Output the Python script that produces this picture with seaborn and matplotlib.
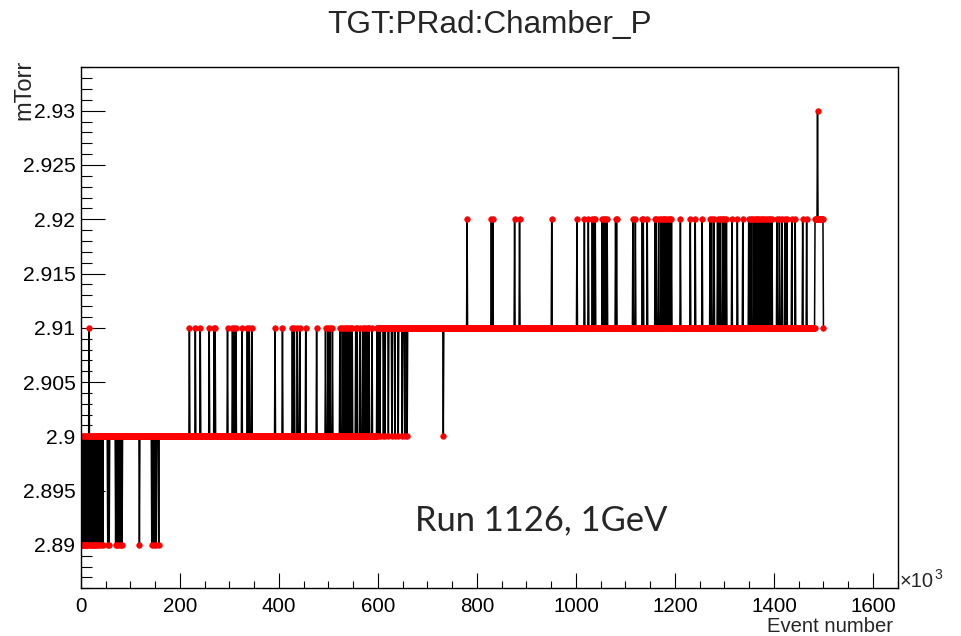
import numpy as np
import pandas as pd
import matplotlib
matplotlib.use("Agg")
import matplotlib.pyplot as plt
import seaborn as sns
from matplotlib.ticker import MultipleLocator, FixedLocator, FuncFormatter

# ---------------- data (event number in units of 10^3, pressure in mTorr) ----------------
# readings every 1000 events from 0 to 1500 x10^3
event_k = np.arange(0, 1501)

# baseline level segments: (start, end, level)
seg_start = [0, 598, 1483]
seg_end = [598, 1483, 1500]
seg_level = [2.90, 2.91, 2.92]

# excursions (event positions, x10^3)
dips_289 = [0, 2, 3, 5, 6, 8, 10, 11, 13, 15, 18, 20, 22, 24, 26, 28, 31, 33, 37,
            41, 44, 54, 57, 70, 73, 77, 80, 83, 118, 143, 147, 152, 157]
spikes_291_low = [16, 219, 231, 241, 259, 269, 271, 296, 306, 310, 313, 325, 336,
                  340, 345, 392, 407, 427, 431, 437, 442, 454, 476, 494, 499, 503,
                  508, 523, 528, 532, 535, 538, 542, 545, 548, 555, 558, 564, 569,
                  572, 576, 579, 582, 588]
dips_290 = [600, 604, 611, 614, 621, 628, 634, 641, 649, 654, 659, 732]
spikes_292 = [780, 829, 832, 876, 886, 951, 1002, 1017, 1025, 1033, 1036, 1039,
              1053, 1056, 1059, 1063, 1080, 1082, 1115, 1120, 1134, 1136, 1144,
              1160, 1162, 1167, 1172, 1175, 1177, 1180, 1183, 1187, 1190, 1193,
              1211, 1231, 1241, 1255, 1271, 1274, 1279, 1286, 1290, 1292, 1297,
              1300, 1304, 1315, 1326, 1337, 1349, 1353, 1355, 1360, 1363, 1365,
              1368, 1371, 1375, 1378, 1382, 1385, 1389, 1392, 1396, 1406, 1411,
              1416, 1422, 1426, 1436, 1443, 1458, 1466]
spike_293 = [1488]
last_291 = [1500]

# build the series from the levels read above
value = np.zeros(len(event_k))
for s, e, lv in zip(seg_start, seg_end, seg_level):
    value[(event_k >= s) & (event_k < e)] = lv
value[event_k == 1500] = 2.92
value[np.isin(event_k, dips_289)] = 2.89
value[np.isin(event_k, spikes_291_low)] = 2.91
value[np.isin(event_k, dips_290)] = 2.90
value[np.isin(event_k, spikes_292)] = 2.92
value[np.isin(event_k, spike_293)] = 2.93
value[np.isin(event_k, last_291)] = 2.91

df = pd.DataFrame({"event": event_k, "mTorr": value})

y_ticks = [2.89, 2.895, 2.90, 2.905, 2.91, 2.915, 2.92, 2.925, 2.93]

# ---------------- style ----------------
sns.set_theme(style="white")
plt.rcParams["font.family"] = ["Liberation Sans", "DejaVu Sans"]

W, H = 961, 636
fig = plt.figure(figsize=(W / 100, H / 100), dpi=100)
fig.patch.set_facecolor("white")
L, R, T, B = 81, 897.7, 67.3, 588.3
ax = fig.add_axes([L / W, 1 - B / H, (R - L) / W, (B - T) / H])
ax.set_facecolor("white")

sns.lineplot(data=df, x="event", y="mTorr", ax=ax, estimator=None, sort=False,
             color="black", linewidth=1.1, marker="o", markersize=4.0,
             markerfacecolor="red", markeredgecolor="red", markeredgewidth=0.5)

ax.set_xlim(0, 1650)
ax.set_ylim(2.886, 2.934)

ax.xaxis.set_major_locator(MultipleLocator(200))
ax.xaxis.set_minor_locator(MultipleLocator(50))
ax.yaxis.set_major_locator(FixedLocator(y_ticks))
ax.yaxis.set_minor_locator(FixedLocator(np.round(np.arange(2.886, 2.9345, 0.001), 3)))
ax.yaxis.set_major_formatter(FuncFormatter(lambda v, p: f"{v:g}"))
ax.xaxis.set_major_formatter(FuncFormatter(lambda v, p: f"{v:g}"))

ax.tick_params(axis="both", which="both", direction="in", colors="black",
               bottom=True, left=True, top=False, right=False)
ax.tick_params(axis="x", which="major", length=10.8, width=0.8, pad=6, labelsize=14.8)
ax.tick_params(axis="x", which="minor", length=5, width=0.8)
ax.tick_params(axis="y", which="major", length=17.3, width=0.8, pad=4, labelsize=15.2)
ax.tick_params(axis="y", which="minor", length=8, width=0.8)

for sp in ax.spines.values():
    sp.set_visible(True)
    sp.set_color("black")
    sp.set_linewidth(1.0)

ax.set_xlabel("")
ax.set_ylabel("")

fig.text(489 / W, 1 - 33 / H, "TGT:PRad:Chamber_P", ha="center", va="baseline",
         fontsize=22.7)
fig.text(24 / W, 1 - 60 / H, "mTorr", rotation=90, ha="center", va="top",
         fontsize=17)
fig.text(893 / W, 1 - 631.5 / H, "Event number", ha="right", va="baseline",
         fontsize=14.6)
fig.text(900 / W, 1 - 586.7 / H, "×10", ha="left", va="baseline", fontsize=14.5)
fig.text(934 / W, 1 - 579 / H, "3", ha="left", va="baseline", fontsize=10)
fig.text(415 / W, 1 - 530 / H, "Run 1126, 1GeV", ha="left", va="baseline",
         fontsize=24.8, family=["Lato", "DejaVu Sans"])

fig.savefig("out.png", dpi=100, facecolor="white")
